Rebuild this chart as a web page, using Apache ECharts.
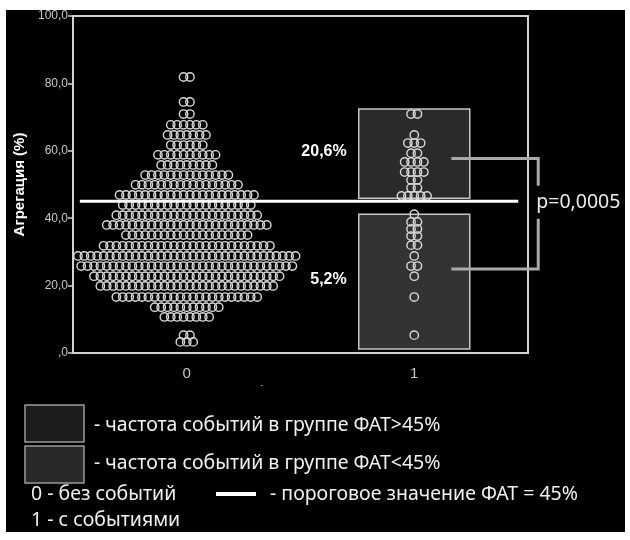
<!DOCTYPE html>
<html>
<head>
<meta charset="utf-8">
<script src="https://cdn.jsdelivr.net/npm/echarts@6/dist/echarts.min.js"></script>
<style>
  html, body { margin: 0; padding: 0; background: #ffffff; }
  #wrap { position: relative; width: 630px; height: 540px; }
  #panel { position: absolute; left: 6px; top: 10px; width: 619px; height: 522px; background: #000; }
  #chart { position: absolute; left: 0; top: 0; width: 630px; height: 540px; }
</style>
</head>
<body>
<div id="wrap"><div id="panel"></div><div id="chart"></div></div>
<script>
// Categories on the x axis: 0 - без событий, 1 - с событиями
const categories = ['0', '1'];

// Group 0: aggregation level of each dot row and how many dots sit in that row
const noEventLevels = [81.9, 74.5, 70.9, 67.7, 64.7, 61.7, 58.8, 55.8, 52.8, 49.9, 46.9, 43.9, 40.9,
                       38.0, 35.0, 31.8, 28.8, 25.8, 22.8, 19.9, 16.6, 13.6, 10.7, 5.3, 3.3];
const noEventCounts = [2, 2, 2, 6, 7, 6, 10, 9, 14, 17, 22, 21, 23,
                       26, 20, 27, 35, 34, 30, 28, 23, 11, 8, 2, 3];

// Group 1: aggregation level of each dot row and how many dots sit in that row
const eventLevels = [70.9, 64.7, 62.3, 59.3, 56.7, 53.7, 51.3, 49.0, 46.6,
                     41.2, 38.9, 36.8, 34.7, 32.0, 28.8, 25.8, 22.8, 16.6, 5.3];
const eventCounts = [2, 1, 3, 2, 4, 4, 2, 2, 5,
                     1, 2, 2, 2, 2, 1, 2, 1, 1, 1];

// FAT threshold and the event-rate boxes above / below it
const threshold = 45;
const rateLabels = ['20,6%', '5,2%'];
const rateRanges = [[45.9, 72.4], [1.2, 41.2]];
const pLabel = 'p=0,0005';

const yTickLabels = [',0', '20,0', '40,0', '60,0', '80,0', '100,0'];
const axisTitle = 'Агрегация (%)';

const legendTexts = [
  '- частота событий в группе ФАТ>45%',
  '- частота событий в группе ФАТ<45%',
  '0 - без событий',
  '1 - с событиями',
  '- пороговое значение ФАТ = 45%'
];

// ---- build dot rows (category index, level, position inside the row) ----
function buildDots(cat, levels, counts) {
  const out = [];
  levels.forEach((lv, i) => {
    const n = counts[i];
    for (let k = 0; k < n; k++) out.push([cat, lv, k - (n - 1) / 2]);
  });
  return out;
}
const dotData = buildDots(0, noEventLevels, noEventCounts)
  .concat(buildDots(1, eventLevels, eventCounts));

const DOT_STEP = 6.4;
const AXIS_GREY = '#d2d2d2';
const LABEL_FONT = 'Liberation Sans, Arial, sans-serif';
const TEXT_FONT = 'Noto Sans, Open Sans, sans-serif';
const LEGEND_FONT = '19.5px ' + TEXT_FONT;

const chart = echarts.init(document.getElementById('chart'), null, { renderer: 'canvas' });

const option = {
  backgroundColor: 'transparent',
  animation: false,
  grid: {
    left: 73, right: 102, top: 16, bottom: 187,
    show: true, borderColor: AXIS_GREY, borderWidth: 2, backgroundColor: 'transparent'
  },
  xAxis: {
    type: 'category',
    data: categories,
    axisLine: { lineStyle: { color: AXIS_GREY, width: 2 } },
    axisTick: { alignWithLabel: true, length: 8, lineStyle: { color: AXIS_GREY, width: 1.5 } },
    axisLabel: { color: '#c8c8c8', fontSize: 15, fontFamily: LABEL_FONT, margin: 13 },
    splitLine: { show: false }
  },
  yAxis: {
    type: 'value',
    min: 0, max: 100, interval: 20,
    name: axisTitle,
    nameLocation: 'middle',
    nameRotate: 90,
    nameGap: 42,
    nameTextStyle: { color: '#ffffff', fontSize: 15, fontWeight: 'bold', fontFamily: LABEL_FONT },
    axisLine: { show: true, lineStyle: { color: AXIS_GREY, width: 2 } },
    axisTick: { show: true, length: 5, lineStyle: { color: AXIS_GREY, width: 1.5 } },
    axisLabel: {
      color: '#c8c8c8', fontSize: 12, fontFamily: LABEL_FONT, margin: 5,
      formatter: v => yTickLabels[Math.round(v / 20)]
    },
    splitLine: { show: false }
  },
  series: [
    {
      // event-rate boxes of group 1
      type: 'custom',
      z: 1,
      data: rateRanges.map(r => [1, r[0], r[1]]),
      renderItem: function (params, api) {
        const cat = api.value(0);
        const bottom = api.coord([cat, api.value(1)]);
        const top = api.coord([cat, api.value(2)]);
        const half = api.size([1, 0])[0] * 0.244;
        const fill = params.dataIndex === 0 ? '#2a2a2a' : '#333333';
        return {
          type: 'group',
          children: [
            {
              type: 'rect',
              shape: { x: top[0] - half, y: top[1], width: half * 2, height: bottom[1] - top[1] },
              style: { fill: fill, stroke: '#c6c6c6', lineWidth: 1.5 }
            },
            {
              type: 'text',
              style: {
                text: rateLabels[params.dataIndex],
                x: top[0] - half - 12, y: (top[1] + bottom[1]) / 2 - 2,
                align: 'right', verticalAlign: 'middle',
                font: 'bold 16px ' + LABEL_FONT, fill: '#ffffff'
              }
            }
          ]
        };
      }
    },
    {
      // dot plot of individual patients
      type: 'custom',
      z: 2,
      data: dotData,
      renderItem: function (params, api) {
        const c = api.coord([api.value(0), api.value(1)]);
        return {
          type: 'circle',
          shape: { cx: c[0] + api.value(2) * DOT_STEP, cy: c[1], r: 4.2 },
          style: { fill: 'transparent', stroke: '#d8d8d8', lineWidth: 1.4 }
        };
      }
    },
    {
      // FAT threshold line
      type: 'custom',
      z: 3,
      data: [[0, threshold]],
      renderItem: function (params, api) {
        const bw = api.size([1, 0])[0];
        const a = api.coord([0, api.value(1)]);
        const b = api.coord([1, api.value(1)]);
        return {
          type: 'line',
          shape: { x1: a[0] - bw * 0.47, y1: a[1], x2: b[0] + bw * 0.457, y2: b[1] },
          style: { stroke: '#ffffff', lineWidth: 3 }
        };
      }
    },
    {
      // bracket comparing the two event rates
      type: 'custom',
      z: 3,
      clip: false,
      data: [[1, 57.7, 49.6, 24.9, 39.8]],
      renderItem: function (params, api) {
        const bw = api.size([1, 0])[0];
        const c = api.coord([1, 0]);
        const x0 = c[0] + bw * 0.163;
        const x1 = c[0] + bw * 0.545;
        const y = v => api.coord([1, v])[1];
        const lineStyle = { stroke: '#a9a9a9', lineWidth: 3, fill: null };
        return {
          type: 'group',
          children: [
            { type: 'polyline', shape: { points: [[x0, y(api.value(1))], [x1, y(api.value(1))], [x1, y(api.value(2))]] }, style: lineStyle },
            { type: 'polyline', shape: { points: [[x0, y(api.value(3))], [x1, y(api.value(3))], [x1, y(api.value(4))]] }, style: lineStyle },
            {
              type: 'text',
              style: {
                text: pLabel, x: x1 - 2, y: y(44.6),
                align: 'left', verticalAlign: 'middle',
                font: '19.5px ' + TEXT_FONT, fill: '#ececec'
              }
            }
          ]
        };
      }
    }
  ],
  graphic: [
    { type: 'text', left: 260, top: 380, style: { text: '-', font: '10px ' + LABEL_FONT, fill: '#8a8a8a' } },
    // legend swatches
    { type: 'rect', shape: { x: 25, y: 405, width: 59, height: 37 }, style: { fill: '#1c1c1c', stroke: '#9a9a9a', lineWidth: 1.5 } },
    { type: 'rect', shape: { x: 25, y: 446, width: 59, height: 37 }, style: { fill: '#292929', stroke: '#9a9a9a', lineWidth: 1.5 } },
    { type: 'text', style: { text: legendTexts[0], x: 94, y: 425, verticalAlign: 'middle', font: LEGEND_FONT, fill: '#f0f0f0' } },
    { type: 'text', style: { text: legendTexts[1], x: 94, y: 463, verticalAlign: 'middle', font: LEGEND_FONT, fill: '#f0f0f0' } },
    { type: 'text', style: { text: legendTexts[2], x: 31, y: 494, verticalAlign: 'middle', font: LEGEND_FONT, fill: '#f0f0f0' } },
    { type: 'text', style: { text: legendTexts[3], x: 31, y: 520, verticalAlign: 'middle', font: LEGEND_FONT, fill: '#f0f0f0' } },
    { type: 'rect', shape: { x: 216, y: 492, width: 40, height: 4 }, style: { fill: '#ffffff' } },
    { type: 'text', style: { text: legendTexts[4], x: 270, y: 494, verticalAlign: 'middle', font: LEGEND_FONT, fill: '#f0f0f0' } }
  ]
};

chart.setOption(option);
</script>
</body>
</html>
